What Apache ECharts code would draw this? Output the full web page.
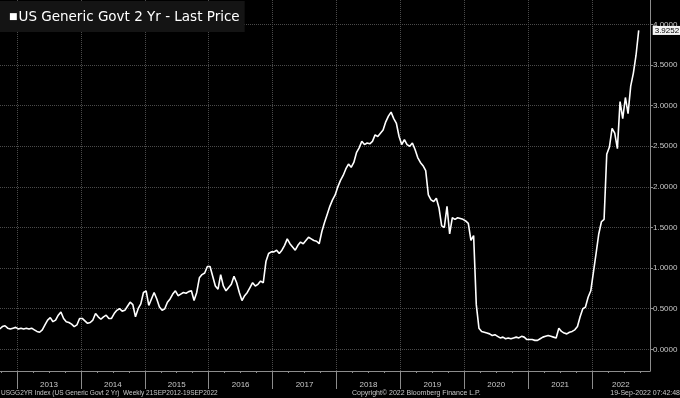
<!DOCTYPE html>
<html>
<head>
<meta charset="utf-8">
<script src="https://cdn.jsdelivr.net/npm/echarts@6/dist/echarts.min.js"></script>
<style>
html, body { margin: 0; padding: 0; background: #000; }
#main { width: 680px; height: 398px; }
</style>
</head>
<body>
<div id="main"></div>
<script>
// US 2Y yield, every half month
var y2012 = [0.25, 0.28, 0.29, 0.26, 0.25, 0.26, 0.27]; // from mid Sep
var y2013 = [0.25, 0.26, 0.25, 0.26, 0.25, 0.26, 0.24, 0.22, 0.21, 0.24, 0.30, 0.36, 0.39, 0.34, 0.36, 0.42, 0.46, 0.38, 0.34, 0.33, 0.31, 0.28, 0.30, 0.38];
var y2014 = [0.38, 0.35, 0.32, 0.33, 0.36, 0.44, 0.40, 0.37, 0.40, 0.42, 0.38, 0.38, 0.44, 0.48, 0.50, 0.47, 0.48, 0.53, 0.58, 0.55, 0.40, 0.50, 0.56, 0.70];
var y2015 = [0.72, 0.54, 0.62, 0.70, 0.62, 0.52, 0.48, 0.50, 0.58, 0.62, 0.68, 0.72, 0.66, 0.68, 0.70, 0.69, 0.71, 0.72, 0.60, 0.70, 0.88, 0.92, 0.94, 1.02];
var y2016 = [1.02, 0.90, 0.78, 0.74, 0.92, 0.78, 0.72, 0.76, 0.80, 0.90, 0.82, 0.70, 0.60, 0.66, 0.70, 0.76, 0.82, 0.78, 0.80, 0.84, 0.82, 1.08, 1.18, 1.20];
var y2017 = [1.20, 1.22, 1.18, 1.22, 1.28, 1.36, 1.30, 1.26, 1.22, 1.28, 1.32, 1.30, 1.34, 1.38, 1.36, 1.34, 1.33, 1.30, 1.45, 1.56, 1.66, 1.76, 1.84, 1.90];
var y2018 = [2.00, 2.08, 2.14, 2.22, 2.28, 2.24, 2.30, 2.42, 2.48, 2.56, 2.52, 2.54, 2.53, 2.56, 2.64, 2.62, 2.66, 2.70, 2.80, 2.87, 2.92, 2.84, 2.78, 2.62];
var y2019 = [2.52, 2.58, 2.52, 2.50, 2.54, 2.46, 2.36, 2.30, 2.26, 2.20, 1.90, 1.84, 1.82, 1.86, 1.74, 1.52, 1.50, 1.76, 1.42, 1.62, 1.60, 1.62, 1.61, 1.60];
var y2020 = [1.58, 1.55, 1.34, 1.40, 0.55, 0.26, 0.22, 0.21, 0.20, 0.19, 0.17, 0.18, 0.16, 0.14, 0.15, 0.13, 0.14, 0.13, 0.14, 0.15, 0.14, 0.16, 0.15, 0.12];
var y2021 = [0.12, 0.12, 0.11, 0.11, 0.13, 0.15, 0.16, 0.17, 0.16, 0.15, 0.14, 0.26, 0.22, 0.20, 0.19, 0.21, 0.22, 0.24, 0.28, 0.40, 0.50, 0.52, 0.64, 0.72];
var y2022 = [0.95, 1.18, 1.42, 1.57, 1.60, 2.40, 2.49, 2.72, 2.66, 2.47, 3.05, 2.84, 3.10, 2.90, 3.24, 3.40, 3.62, 3.9252]; // to 19 Sep

var years = ['2013', '2014', '2015', '2016', '2017', '2018', '2019', '2020', '2021', '2022'];
var yTicks = [0, 0.5, 1, 1.5, 2, 2.5, 3, 3.5, 4];

var blocks = [
    [2012, 17, y2012], [2013, 0, y2013], [2014, 0, y2014], [2015, 0, y2015],
    [2016, 0, y2016], [2017, 0, y2017], [2018, 0, y2018], [2019, 0, y2019],
    [2020, 0, y2020], [2021, 0, y2021], [2022, 0, y2022]
];
var data = [];
blocks.forEach(function (b) {
    b[2].forEach(function (v, i) {
        data.push([b[0] + (b[1] + i + 0.5) / 24, v]);
    });
});

var yearTicks = years.map(Number);
var labelPos = years.map(function (y, i) { return i === years.length - 1 ? +y + 0.45 : +y + 0.5; });
var quarterTicks = [2012.75];
yearTicks.forEach(function (y) { quarterTicks.push(y + 0.25, y + 0.5, y + 0.75); });

var axisCol = '#8c8c8c';
var textCol = '#c8c8c8';
var gridLine = { show: true, lineStyle: { color: '#4a4a4a', type: 'dotted', width: 1 } };
var xMin = 2012.734, xMax = 2022.906;
var smallFont = 'Liberation Sans';

var myChart = echarts.init(document.getElementById('main'));
myChart.setOption({
    animation: false,
    backgroundColor: '#000',
    title: {
        text: '{s|\u25A0}US Generic Govt 2 Yr - Last Price',
        left: 0,
        top: 1,
        padding: [9, 5, 8, 9],
        backgroundColor: '#141414',
        textStyle: {
            color: '#fff', fontSize: 13.5, fontWeight: 'normal', fontFamily: 'DejaVu Sans',
            rich: { s: { color: '#fff', fontSize: 9, fontFamily: 'DejaVu Sans', padding: [0, 1, 0, 0] } }
        }
    },
    grid: { left: 0, right: 30, top: 0, bottom: 27, containLabel: false, outerBoundsMode: 'none' },
    xAxis: [{
        type: 'value',
        min: xMin,
        max: xMax,
        axisLine: { show: true, onZero: false, lineStyle: { color: axisCol } },
        axisTick: { show: true, customValues: yearTicks, length: 18, lineStyle: { color: axisCol } },
        axisLabel: {
            customValues: labelPos,
            formatter: function (v) { return String(Math.floor(v)); },
            color: textCol, fontSize: 8, margin: 10, fontFamily: smallFont
        },
        splitLine: gridLine
    }, {
        type: 'value',
        position: 'bottom',
        min: xMin,
        max: xMax,
        axisLine: { show: false, onZero: false },
        axisTick: { show: true, customValues: quarterTicks, length: 2, lineStyle: { color: axisCol } },
        axisLabel: { show: false },
        splitLine: { show: false }
    }],
    yAxis: {
        type: 'value',
        position: 'right',
        min: -0.267,
        max: 4.3,
        axisLine: { show: true, onZero: false, lineStyle: { color: axisCol } },
        axisTick: { show: true, customValues: yTicks, length: 3, lineStyle: { color: axisCol } },
        axisLabel: {
            customValues: yTicks,
            formatter: function (v) { return v.toFixed(4); },
            color: textCol, fontSize: 8, margin: 3, fontFamily: smallFont
        },
        splitLine: gridLine
    },
    series: [{
        type: 'line',
        data: data,
        showSymbol: false,
        lineStyle: { color: '#fff', width: 1.6 },
        endLabel: {
            show: true,
            distance: 14,
            formatter: function (p) { return p.value[1].toFixed(4); },
            backgroundColor: '#f4f4f4',
            color: '#000',
            fontSize: 8,
            padding: [1, 2, 0, 2],
            fontFamily: smallFont
        }
    }],
    graphic: [
        { type: 'text', left: 1, top: 390, style: { text: 'USGG2YR Index (US Generic Govt 2 Yr)  Weekly 21SEP2012-19SEP2022', fill: textCol, fontSize: 6.5, fontFamily: smallFont } },
        { type: 'text', left: 352, top: 390, style: { text: 'Copyright\u00A9 2022 Bloomberg Finance L.P.', fill: textCol, fontSize: 7, fontFamily: smallFont } },
        { type: 'text', right: 0, top: 390, style: { text: '19-Sep-2022 07:42:48', fill: textCol, fontSize: 7, fontFamily: smallFont } }
    ]
});
</script>
</body>
</html>
